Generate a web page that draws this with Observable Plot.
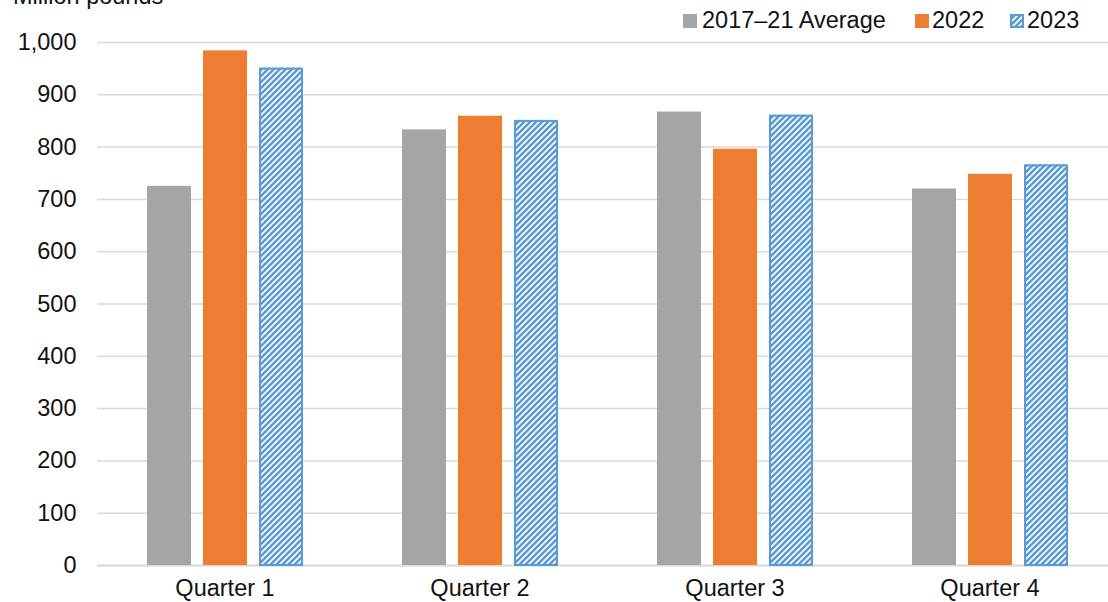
<!DOCTYPE html>
<html>
<head>
<meta charset="utf-8">
<script src="https://cdn.jsdelivr.net/npm/d3@7"></script>
<script src="https://cdn.jsdelivr.net/npm/@observablehq/plot@0.6"></script>
<style>
  body { margin: 0; background: #fff; }
  #wrap { position: relative; width: 1108px; height: 602px; overflow: hidden;
          font-family: "Liberation Sans", Arial, sans-serif; color: #111; }
  #unit { position: absolute; left: 13px; top: -15px; font-size: 23.5px; line-height: 1; white-space: nowrap; }
  #legend { position: absolute; left: 0; top: 9px; width: 1108px; height: 24px;
            font-size: 23.5px; line-height: 1; white-space: nowrap; }
  #legend .item { position: absolute; top: 0; display: flex; align-items: center; height: 24px; }
  #legend svg { display: block; }
  #chart { position: absolute; left: 0; top: 0; }
</style>
</head>
<body>
<div id="wrap">
  <div id="chart"></div>
  <div id="unit">Million pounds</div>
  <div id="legend"></div>
</div>
<script>
// Quarterly values, million pounds
const quarters = ["Quarter 1", "Quarter 2", "Quarter 3", "Quarter 4"];
const seriesNames = ["2017–21 Average", "2022", "2023"];
const average2017to21 = [725, 833, 867, 720];
const values2022 = [984, 859, 796, 748];
const values2023 = [951, 851, 861, 766];
const yTicks = [0, 100, 200, 300, 400, 500, 600, 700, 800, 900, 1000];

const seriesValues = [average2017to21, values2022, values2023];
const table = [];
seriesNames.forEach((s, i) => {
  quarters.forEach((q, j) => table.push({quarter: q, series: s, value: seriesValues[i][j]}));
});

const gray = "#a5a5a5", orange = "#ed7d31", blue = "#5b9bd5";
const fills = [gray, orange, "url(#hatch2023)"];

const chart = Plot.plot({
  width: 1108,
  height: 602,
  marginLeft: 96,
  marginRight: 0,
  marginTop: 42,
  marginBottom: 37,
  style: {fontFamily: "'Liberation Sans', Arial, sans-serif", fontSize: "23.5px", color: "#111", background: "transparent"},
  fx: {domain: quarters, range: [96.5, 1116.5], padding: 0, label: null},
  x: {domain: seriesNames, range: [145, 303], paddingInner: 0.22, paddingOuter: 0, axis: null},
  y: {domain: [0, 1000], label: null},
  color: {domain: seriesNames, range: fills},
  marks: [
    Plot.gridY(yTicks, {stroke: "#d9d9d9", strokeOpacity: 1, strokeWidth: 1.5}),
    Plot.axisY(yTicks, {tickSize: 0, tickPadding: 21, tickFormat: d3.format(","), label: null}),
    Plot.axisFx({anchor: "bottom", tickSize: 0, tickPadding: 14, label: null}),
    Plot.ruleY([0], {stroke: "#d9d9d9", strokeWidth: 2}),
    Plot.barY(table, {fx: "quarter", x: "series", y: "value", fill: "series"}),
    Plot.barY(table.filter(d => d.series === "2023"),
      {fx: "quarter", x: "series", y: "value", fill: "none", stroke: blue, strokeWidth: 2, insetLeft: 1, insetRight: 1, insetTop: 1})
  ]
});

// Upward diagonal stripe pattern for the 2023 bars
function addHatch(svg, id) {
  const p = d3.select(svg).insert("defs", ":first-child")
    .append("pattern").attr("id", id)
    .attr("patternUnits", "userSpaceOnUse").attr("width", 6).attr("height", 6);
  p.append("rect").attr("width", 6).attr("height", 6).attr("fill", "#fff");
  p.append("path").attr("d", "M-1.5,1.5L1.5,-1.5M0,6L6,0M4.5,7.5L7.5,4.5")
    .attr("stroke", blue).attr("stroke-width", 2.6).attr("fill", "none");
}
addHatch(chart, "hatch2023");
document.getElementById("chart").appendChild(chart);

// Legend
const legendLeft = [683, 915, 1010];
const legendGap = [5, 3, 3];
const legend = d3.select("#legend");
seriesNames.forEach((name, i) => {
  const item = legend.append("div").attr("class", "item").style("left", legendLeft[i] + "px");
  const sw = item.append("svg").attr("width", 14).attr("height", 14).style("margin-right", legendGap[i] + "px");
  if (i === 2) {
    addHatch(sw.node(), "hatchLegend");
    sw.append("rect").attr("x", 1).attr("y", 1).attr("width", 12).attr("height", 12)
      .attr("fill", "url(#hatchLegend)").attr("stroke", blue).attr("stroke-width", 2);
  } else {
    sw.append("rect").attr("width", 14).attr("height", 14).attr("fill", fills[i]);
  }
  item.append("span").text(name);
});
</script>
</body>
</html>
